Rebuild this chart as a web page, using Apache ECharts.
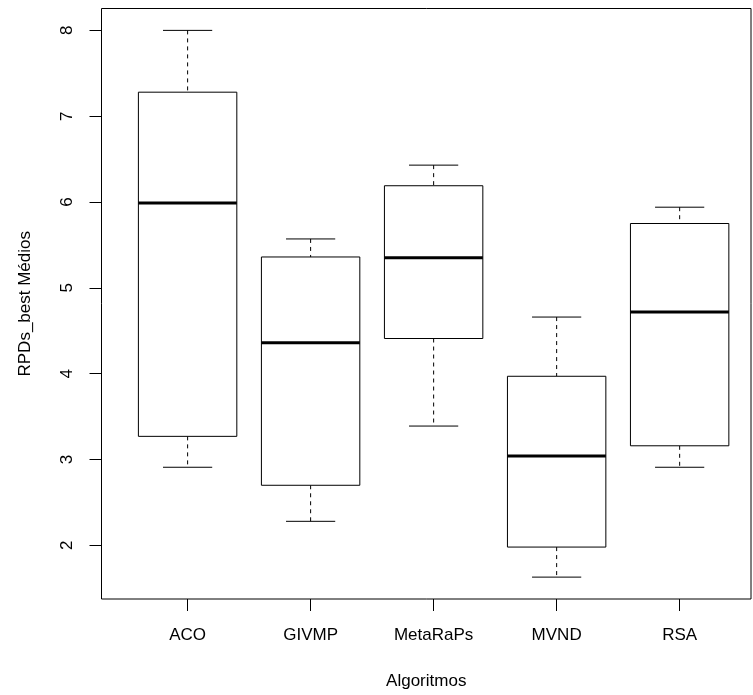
<!DOCTYPE html>
<html>
<head>
<meta charset="utf-8">
<script src="https://cdn.jsdelivr.net/npm/echarts@6/dist/echarts.min.js"></script>
<style>
html, body { margin: 0; padding: 0; background: #fff; }
#main { width: 753px; height: 695px; }
</style>
</head>
<body>
<div id="main"></div>
<script>
// boxplot: RPDs_best por algoritmo
var algoritmos = ['ACO', 'GIVMP', 'MetaRaPs', 'MVND', 'RSA'];
var minimos  = [2.91, 2.28, 3.39, 1.63, 2.91];
var q1       = [3.27, 2.70, 4.41, 1.98, 3.16];
var medianas = [5.99, 4.36, 5.35, 3.04, 4.72];
var q3       = [7.28, 5.36, 6.19, 3.97, 5.75];
var maximos  = [8.00, 5.57, 6.43, 4.66, 5.94];
var yTicks = [2, 3, 4, 5, 6, 7, 8];
var xTicks = [1, 2, 3, 4, 5];

var data = [];
for (var i = 0; i < algoritmos.length; i++) {
	data.push([i + 1, minimos[i], q1[i], medianas[i], q3[i], maximos[i]]);
}

var myChart = echarts.init(document.getElementById('main'));
var fonte = 'Liberation Sans, Arial, Helvetica, sans-serif';

function renderBox(params, api) {
	var x = api.value(0);
	var pLow = api.coord([x, api.value(1)]);
	var pQ1 = api.coord([x, api.value(2)]);
	var pMed = api.coord([x, api.value(3)]);
	var pQ3 = api.coord([x, api.value(4)]);
	var pHigh = api.coord([x, api.value(5)]);
	var w = api.size([0.8, 0])[0];
	var cw = api.size([0.4, 0])[0];
	var cx = pMed[0];
	var dash = { stroke: '#000', lineWidth: 1, lineDash: [4, 4] };
	var solid = { stroke: '#000', lineWidth: 1 };
	return {
		type: 'group',
		children: [
			{ type: 'line', shape: { x1: cx, y1: pHigh[1], x2: cx, y2: pQ3[1] }, style: dash },
			{ type: 'line', shape: { x1: cx, y1: pQ1[1], x2: cx, y2: pLow[1] }, style: dash },
			{ type: 'line', shape: { x1: cx - cw / 2, y1: pHigh[1], x2: cx + cw / 2, y2: pHigh[1] }, style: solid },
			{ type: 'line', shape: { x1: cx - cw / 2, y1: pLow[1], x2: cx + cw / 2, y2: pLow[1] }, style: solid },
			{ type: 'rect', shape: { x: cx - w / 2, y: pQ3[1], width: w, height: pQ1[1] - pQ3[1] },
				style: { fill: '#fff', stroke: '#000', lineWidth: 1 } },
			{ type: 'line', shape: { x1: cx - w / 2, y1: pMed[1], x2: cx + w / 2, y2: pMed[1] },
				style: { stroke: '#000', lineWidth: 3 } }
		]
	};
}

var option = {
	animation: false,
	backgroundColor: '#fff',
	grid: {
		left: 101.5,
		top: 8.5,
		right: 2,
		bottom: 94,
		show: true,
		borderColor: '#000',
		borderWidth: 1,
		backgroundColor: 'transparent'
	},
	xAxis: {
		type: 'value',
		min: 0.3,
		max: 5.58,
		name: 'Algoritmos',
		nameLocation: 'middle',
		nameGap: 74,
		nameTextStyle: { color: '#000', fontSize: 17, fontFamily: fonte },
		splitLine: { show: false },
		axisLine: { show: false },
		axisTick: { show: true, inside: false, length: 12, customValues: xTicks,
			lineStyle: { color: '#000', width: 1 } },
		axisLabel: {
			customValues: xTicks,
			margin: 28,
			color: '#000',
			fontSize: 17,
			fontFamily: fonte,
			formatter: function (v) { return algoritmos[Math.round(v) - 1] || ''; }
		}
	},
	yAxis: {
		type: 'value',
		min: 1.375,
		max: 8.255,
		name: 'RPDs_best Médios',
		nameLocation: 'middle',
		nameGap: 68,
		nameRotate: 90,
		nameTextStyle: { color: '#000', fontSize: 17, fontFamily: fonte },
		splitLine: { show: false },
		axisLine: { show: false },
		axisTick: { show: true, inside: false, length: 12, customValues: yTicks,
			lineStyle: { color: '#000', width: 1 } },
		axisLabel: {
			customValues: yTicks,
			rotate: 90,
			margin: 26,
			color: '#000',
			fontSize: 17,
			fontFamily: fonte
		}
	},
	series: [{
		type: 'custom',
		renderItem: renderBox,
		encode: { x: 0, y: [1, 2, 3, 4, 5] },
		data: data
	}]
};

myChart.setOption(option);
</script>
</body>
</html>
